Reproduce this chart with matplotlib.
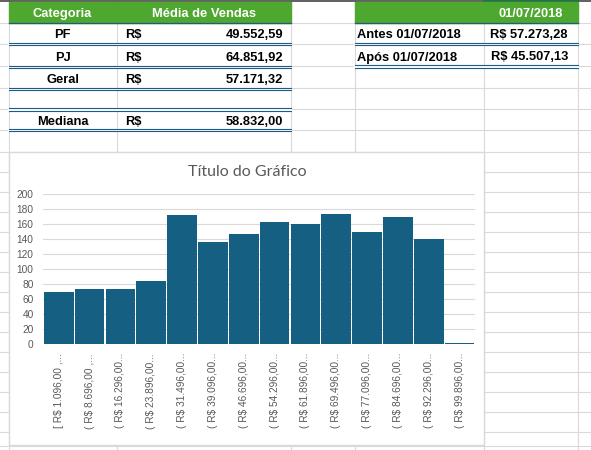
import matplotlib
matplotlib.use("Agg")
import matplotlib.pyplot as plt
from matplotlib.patches import Rectangle

# tabela de medias
categorias = ["PF", "PJ", "Geral", "", "Mediana"]
medias = ["49.552,59", "64.851,92", "57.171,32", "", "58.832,00"]

# tabela antes / depois
periodos = ["Antes 01/07/2018", "Após 01/07/2018"]
valores_periodo = ["R$ 57.273,28", "R$ 45.507,13"]

# histograma
faixas = ["[ R$ 1.096,00 ,...", "( R$ 8.696,00 ,...", "( R$ 16.296,00...",
          "( R$ 23.896,00...", "( R$ 31.496,00...", "( R$ 39.096,00...",
          "( R$ 46.696,00...", "( R$ 54.296,00...", "( R$ 61.896,00...",
          "( R$ 69.496,00...", "( R$ 77.096,00...", "( R$ 84.696,00...",
          "( R$ 92.296,00...", "( R$ 99.896,00..."]
contagens = [69, 73, 73, 84, 172, 136, 147, 163, 160, 174, 150, 170, 140, 1]

W, H = 591, 450
GREEN = "#4EA72E"
BLUE = "#156082"
BORDER = "#1E5B80"
GRID = "#D9D9D9"
TXT = "#595959"
FONT = ["Liberation Sans", "DejaVu Sans"]

fig = plt.figure(figsize=(W / 100, H / 100), dpi=100)
sheet = fig.add_axes([0, 0, 1, 1])
sheet.set_xlim(0, W)
sheet.set_ylim(H, 0)
sheet.axis("off")

# grade da planilha
rows = [22.5, 44, 66, 88, 109, 130, 152, 172, 192, 212, 232, 252, 272,
        292, 312, 332, 352, 372, 392, 412, 432, 446]
cols = [8.5, 117, 290.5, 355, 484, 577.5]
for y in rows:
    sheet.plot([0, W], [y, y], color=GRID, lw=0.8)
for x in cols:
    sheet.plot([x, x], [0, H], color=GRID, lw=0.8)
sheet.plot([0, W], [0.5, 0.5], color="#444444", lw=1.2)
sheet.plot([484, 577.5], [0.5, 0.5], color="#217346", lw=1.4)


def double_line(x0, x1, y):
    sheet.plot([x0, x1], [y, y], color="white", lw=1.6, zorder=3)
    sheet.plot([x0, x1], [y - 1.1, y - 1.1], color=BORDER, lw=0.8, zorder=4)
    sheet.plot([x0, x1], [y + 1.1, y + 1.1], color=BORDER, lw=0.8, zorder=4)


# tabela esquerda
sheet.add_patch(Rectangle((8.5, 2), 282, 20.5, color=GREEN, zorder=3))
sheet.text(62.5, 17, "Categoria", color="white", fontsize=9.3, weight="bold",
           ha="center", va="baseline", family=FONT, zorder=4)
sheet.text(204, 17, "Média de Vendas", color="white", fontsize=9.3, weight="bold",
           ha="center", va="baseline", family=FONT, zorder=4)
sheet.plot([8.5, 290.5], [22.5, 22.5], color=BORDER, lw=0.9, zorder=4)
baselines = [38, 61, 83, 104, 125]
for cat, val, yb in zip(categorias, medias, baselines):
    if not cat:
        continue
    sheet.text(62.5, yb, cat, fontsize=9.3, weight="bold", ha="center",
               va="baseline", family=FONT)
    sheet.text(125, yb, "R$", fontsize=9.3, weight="bold", ha="left",
               va="baseline", family=FONT)
    sheet.text(283, yb, val, fontsize=9.3, weight="bold", ha="right",
               va="baseline", family=FONT)
for y in [44, 67, 89, 109.5, 130]:
    double_line(8.5, 290.5, y)

# tabela direita
sheet.add_patch(Rectangle((355, 2), 222.5, 20.5, color=GREEN, zorder=3))
sheet.text(530.5, 17, "01/07/2018", color="white", fontsize=9.3, weight="bold",
           ha="center", va="baseline", family=FONT, zorder=4)
sheet.plot([355, 577.5], [22.5, 22.5], color=BORDER, lw=0.9, zorder=4)
for per, val, yb in zip(periodos, valores_periodo, [38, 60.5]):
    sheet.text(357, yb, per, fontsize=9.3, weight="bold", ha="left",
               va="baseline", family=FONT)
    sheet.text(568, yb, val, fontsize=9.3, weight="bold", ha="right",
               va="baseline", family=FONT)
for y in [44, 66.5]:
    double_line(355, 577.5, y)

# caixa do grafico
sheet.add_patch(Rectangle((9, 152), 475, 293, facecolor="white",
                          edgecolor=GRID, lw=1, zorder=5))
sheet.text(247, 176.5, "Título do Gráfico", color=TXT, fontsize=11.5,
           ha="center", va="baseline", family=["Lato", "DejaVu Sans"], zorder=6)

left, right, top, bottom = 43.3, 475, 194.3, 344
ax = fig.add_axes([left / W, 1 - bottom / H, (right - left) / W, (bottom - top) / H],
                  zorder=10)
ax.set_facecolor("none")
x = range(len(contagens))
ax.bar(x, contagens, width=0.965, color=BLUE, lw=0, zorder=3)
ax.set_xlim(-0.5, len(contagens) - 0.5)
ax.set_ylim(0, 200)
ax.set_yticks(range(0, 201, 20))
ax.grid(axis="y", color=GRID, lw=0.8, zorder=0)
ax.set_axisbelow(True)
for s in ax.spines.values():
    s.set_visible(False)
ax.set_xticks(list(x))
ax.set_xticklabels(faixas, rotation=90, fontsize=7.3, color=TXT, family=FONT)
ax.tick_params(axis="x", length=0, pad=6.5)
ax.tick_params(axis="y", length=0, pad=7, labelsize=7.3, labelcolor=TXT)
for lab in ax.get_yticklabels():
    lab.set_family(FONT)

fig.savefig("out.png", dpi=100)
